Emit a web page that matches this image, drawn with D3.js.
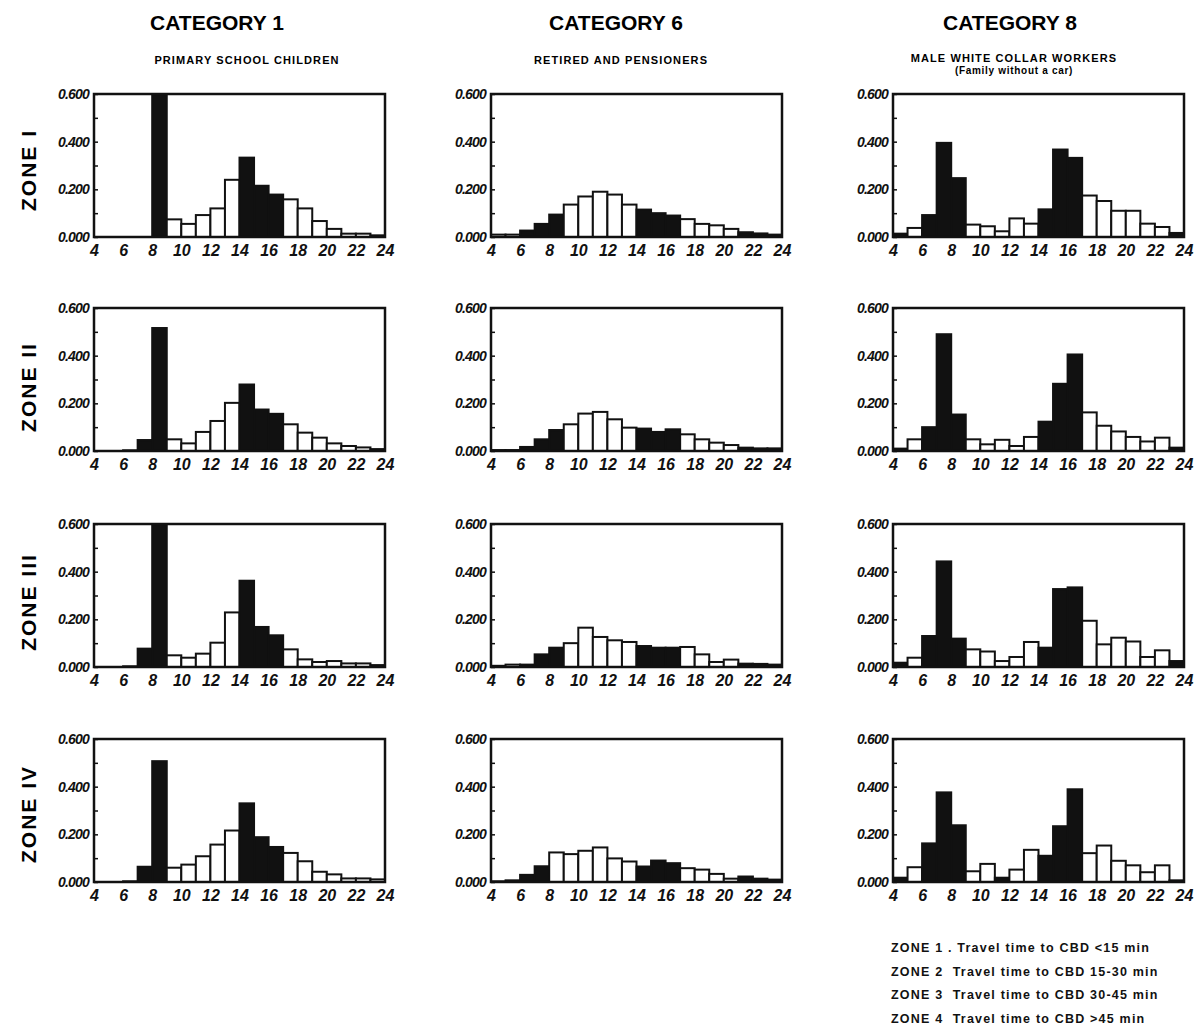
<!DOCTYPE html>
<html><head><meta charset="utf-8">
<script src="https://cdn.jsdelivr.net/npm/d3@7/dist/d3.min.js"></script>
<style>body{margin:0;background:#fff}</style></head>
<body>
<svg id="chart" width="1195" height="1032"></svg>
<script>
// ---------- data ----------
const hourBins = [4,5,6,7,8,9,10,11,12,13,14,15,16,17,18,19,20,21,22,23];
const categories = ["CATEGORY 1", "CATEGORY 6", "CATEGORY 8"];
const subtitles = [["PRIMARY SCHOOL CHILDREN"], ["RETIRED AND PENSIONERS"], ["MALE WHITE COLLAR WORKERS", "(Family without a car)"]];
const zones = ["ZONE I", "ZONE II", "ZONE III", "ZONE IV"];
const xTickValues = [4,6,8,10,12,14,16,18,20,22,24];
const yTickValues = [0, 0.1, 0.2, 0.3, 0.4, 0.5, 0.6];
const yTickLabels = {"0": "0.000", "0.2": "0.200", "0.4": "0.400", "0.6": "0.600"};
const legendLines = [
  "ZONE 1 . Travel time to CBD <15 min",
  "ZONE 2  Travel time to CBD 15-30 min",
  "ZONE 3  Travel time to CBD 30-45 min",
  "ZONE 4  Travel time to CBD >45 min"
];

// share of trips starting in each hour bin (4-5 ... 23-24)
const cat1Zone1 = [0,0,0,0,0.640,0.074,0.055,0.092,0.120,0.240,0.333,0.215,0.178,0.158,0.120,0.067,0.034,0.014,0.014,0.007];
const cat1Zone2 = [0,0,0.003,0.046,0.516,0.049,0.032,0.080,0.126,0.202,0.279,0.174,0.156,0.112,0.077,0.056,0.032,0.021,0.015,0.008];
const cat1Zone3 = [0,0,0.003,0.077,0.640,0.049,0.039,0.056,0.102,0.229,0.362,0.168,0.133,0.074,0.032,0.021,0.025,0.015,0.015,0.008];
const cat1Zone4 = [0,0,0.003,0.064,0.507,0.060,0.073,0.108,0.157,0.216,0.330,0.188,0.147,0.122,0.087,0.043,0.032,0.015,0.015,0.011];

const cat6Zone1 = [0.010,0.010,0.027,0.055,0.094,0.136,0.170,0.190,0.178,0.136,0.115,0.100,0.090,0.075,0.055,0.049,0.034,0.020,0.015,0.010];
const cat6Zone2 = [0.004,0.004,0.017,0.049,0.088,0.112,0.157,0.164,0.133,0.098,0.094,0.080,0.091,0.070,0.049,0.035,0.025,0.014,0.011,0.011];
const cat6Zone3 = [0.005,0.010,0.010,0.053,0.081,0.100,0.165,0.126,0.112,0.105,0.088,0.081,0.081,0.084,0.053,0.021,0.031,0.014,0.013,0.010];
const cat6Zone4 = [0.003,0.007,0.030,0.066,0.124,0.117,0.131,0.145,0.099,0.086,0.065,0.090,0.079,0.058,0.052,0.034,0.014,0.023,0.014,0.010];

const cat8Zone1 = [0.014,0.038,0.092,0.395,0.247,0.052,0.045,0.024,0.078,0.056,0.116,0.367,0.332,0.174,0.151,0.110,0.110,0.056,0.042,0.017];
const cat8Zone2 = [0.010,0.049,0.100,0.490,0.153,0.049,0.028,0.047,0.021,0.059,0.123,0.282,0.405,0.162,0.106,0.082,0.059,0.040,0.056,0.014];
const cat8Zone3 = [0.018,0.039,0.130,0.443,0.119,0.074,0.065,0.025,0.042,0.105,0.081,0.327,0.334,0.194,0.095,0.123,0.107,0.042,0.070,0.025];
const cat8Zone4 = [0.018,0.062,0.162,0.376,0.238,0.045,0.076,0.018,0.052,0.135,0.110,0.234,0.389,0.121,0.153,0.089,0.070,0.041,0.070,0.007];

// hour bins drawn in black (peak-hour bins)
const cat1Dark = [7,8,14,15,16];
const cat6Dark = [6,7,8,14,15,16,21,22,23];
const cat6Zone4Dark = [6,7,14,15,16,21,22,23];
const cat8Dark = [4,6,7,8,14,15,16,23];
const cat8Zone4Dark = [4,6,7,8,11,14,15,16,23];

const panelValues = [
  [cat1Zone1, cat6Zone1, cat8Zone1],
  [cat1Zone2, cat6Zone2, cat8Zone2],
  [cat1Zone3, cat6Zone3, cat8Zone3],
  [cat1Zone4, cat6Zone4, cat8Zone4]
];
const panelDark = [
  [cat1Dark, cat6Dark, cat8Dark],
  [cat1Dark, cat6Dark, cat8Dark],
  [cat1Dark, cat6Dark, cat8Dark],
  [cat1Dark, cat6Zone4Dark, cat8Zone4Dark]
];

// ---------- layout ----------
const colLeft = [94, 491, 893];
const rowTop = [94, 308, 524, 739];
const pw = 291, ph = 143;
const titleX = [217, 616, 1010];
const subX = [247, 621, 1014];
const zoneY = [170, 387, 602, 814];

const svg = d3.select("#chart");
svg.append("rect").attr("width", 1195).attr("height", 1032).attr("fill", "#fff");

const x = d3.scaleLinear().domain([4, 24]).range([0, pw]);
const y = d3.scaleLinear().domain([0, 0.6]).range([ph, 0]);

// titles
categories.forEach((c, j) => {
  svg.append("text").attr("x", titleX[j]).attr("y", 30)
    .attr("text-anchor", "middle")
    .style("font", "bold 21px 'Liberation Sans', Arial, sans-serif")
    .text(c);
  subtitles[j].forEach((s, k) => {
    svg.append("text").attr("x", subX[j]).attr("y", (subtitles[j].length > 1 ? 62 : 64) + k * 12)
      .attr("text-anchor", "middle")
      .attr("letter-spacing", k === 0 ? "1.1" : "0.7")
      .style("font", k === 0 ? "bold 11px 'Liberation Sans', Arial, sans-serif" : "bold 10px 'Liberation Sans', Arial, sans-serif")
      .text(s);
  });
});

// zone labels
zones.forEach((z, i) => {
  svg.append("text")
    .attr("transform", `translate(36,${zoneY[i]}) rotate(-90)`)
    .attr("text-anchor", "middle")
    .attr("letter-spacing", "2")
    .style("font", "bold 21px 'Liberation Sans', Arial, sans-serif")
    .text(z);
});

// panels
zones.forEach((z, i) => {
  categories.forEach((c, j) => {
    const g = svg.append("g").attr("transform", `translate(${colLeft[j]},${rowTop[i]})`);
    const id = `clip${i}${j}`;
    g.append("clipPath").attr("id", id).append("rect")
      .attr("x", 0).attr("y", 0).attr("width", pw).attr("height", ph);
    const vals = panelValues[i][j];
    const dark = panelDark[i][j];
    const data = hourBins.map((h, k) => ({h, v: vals[k], dark: dark.includes(h)}));
    g.append("g").attr("clip-path", `url(#${id})`)
      .selectAll("rect").data(data).join("rect")
      .attr("x", d => x(d.h))
      .attr("width", d => x(d.h + 1) - x(d.h))
      .attr("y", d => y(d.v))
      .attr("height", d => y(0) - y(d.v))
      .attr("fill", d => d.dark ? "#111" : "#fff")
      .attr("stroke", "#111")
      .attr("stroke-width", 2);

    // y axis (ticks inward)
    const ya = g.append("g").call(
      d3.axisLeft(y).tickValues(yTickValues).tickSize(-4).tickPadding(5)
        .tickFormat(d => yTickLabels[String(+d.toFixed(1))] || ""));
    ya.select(".domain").remove();
    ya.selectAll("line").attr("stroke", "#111").attr("stroke-width", 1.5);
    ya.selectAll("text")
      .style("font", "italic bold 14px 'Liberation Sans', Arial, sans-serif")
      .attr("fill", "#111").attr("letter-spacing", "-0.8");

    // x axis
    const xa = g.append("g").attr("transform", `translate(0,${ph})`).call(
      d3.axisBottom(x).tickValues(xTickValues).tickSize(0).tickPadding(8).tickFormat(d3.format("d")));
    xa.select(".domain").remove();
    xa.selectAll("text")
      .style("font", "italic bold 16px 'Liberation Sans', Arial, sans-serif")
      .attr("fill", "#111");

    // frame
    g.append("rect").attr("x", 0).attr("y", 0).attr("width", pw).attr("height", ph)
      .attr("fill", "none").attr("stroke", "#111").attr("stroke-width", 2.5);
  });
});

// legend
legendLines.forEach((t, k) => {
  svg.append("text").attr("x", 891).attr("y", 952 + k * 23.5)
    .style("font", "bold 12.5px 'Liberation Sans', Arial, sans-serif")
    .style("white-space", "pre")
    .attr("letter-spacing", "1.2")
    .attr("fill", "#111")
    .text(t);
});
</script>
</body></html>
